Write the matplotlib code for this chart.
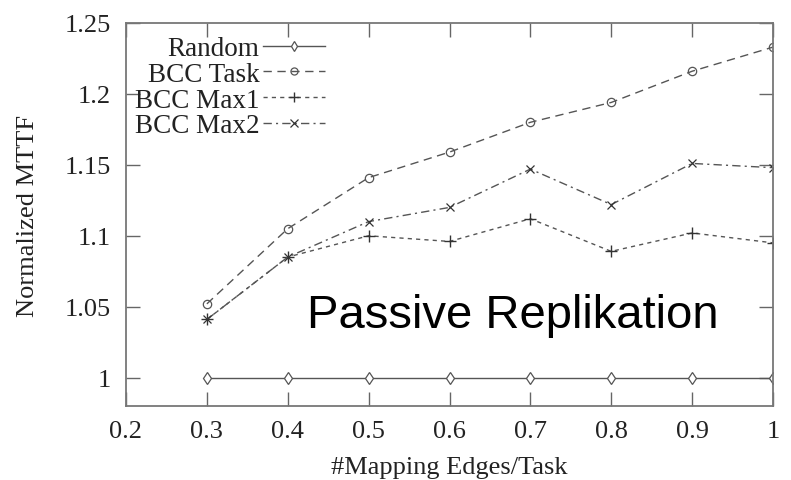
import matplotlib
matplotlib.use("Agg")
import matplotlib.pyplot as plt

x = [0.3, 0.4, 0.5, 0.6, 0.7, 0.8, 0.9, 1.0]
random_vals = [1.0, 1.0, 1.0, 1.0, 1.0, 1.0, 1.0, 1.0]
bcc_task = [1.052, 1.105, 1.141, 1.159, 1.180, 1.194, 1.216, 1.233]
bcc_max1 = [1.041, 1.085, 1.100, 1.096, 1.112, 1.089, 1.102, 1.095]
bcc_max2 = [1.041, 1.085, 1.110, 1.120, 1.147, 1.122, 1.151, 1.148]
xticks = [0.2, 0.3, 0.4, 0.5, 0.6, 0.7, 0.8, 0.9, 1.0]
xtick_labels = ["0.2", "0.3", "0.4", "0.5", "0.6", "0.7", "0.8", "0.9", "1"]
yticks = [1.0, 1.05, 1.1, 1.15, 1.2, 1.25]
ytick_labels = ["1", "1.05", "1.1", "1.15", "1.2", "1.25"]

serif = ["Liberation Serif", "DejaVu Serif"]
lc = "#555555"
tc = "#222222"

fig = plt.figure(figsize=(7.91, 4.81), dpi=100)
ax = fig.add_axes([126/791, 74/481, 647/791, 383/481])

ax.plot(x, random_vals, color=lc, lw=1.0, ls="-", marker="d", ms=6,
        mfc="white", mec=lc, mew=0.9, label="Random")
ax.plot(x, bcc_task, color=lc, lw=1.0, ls=(0, (6, 4)), marker="o", ms=6,
        mfc="none", mec=lc, mew=0.9, label="BCC Task")
ax.plot(x, bcc_max1, color=lc, lw=1.0, ls=(0, (3, 3)), marker="+", ms=8.5,
        mec="#333333", mew=1.0, label="BCC Max1")
ax.plot(x, bcc_max2, color=lc, lw=1.0, ls=(0, (6, 3, 1.5, 3)), marker="x", ms=6,
        mec="#333333", mew=0.9, label="BCC Max2")

ax.set_xlim(0.2, 1.0)
ax.set_ylim(0.98, 1.25)
ax.set_xticks(xticks)
ax.set_xticklabels(xtick_labels, fontfamily=serif, fontsize=19, color=tc)
ax.set_yticks(yticks)
ax.set_yticklabels(ytick_labels, fontfamily=serif, fontsize=19, color=tc)
ax.tick_params(direction="in", length=10, width=1.0, color="#666666",
               top=True, right=True)
ax.tick_params(axis="y", pad=11)
ax.tick_params(axis="x", pad=10)
for s in ax.spines.values():
    s.set_color("#777777")
    s.set_linewidth(1.3)

ax.set_xlabel("#Mapping Edges/Task", fontfamily=serif, fontsize=19, color=tc,
              labelpad=10)
ax.set_ylabel("Normalized MTTF", fontfamily=serif, fontsize=19, color=tc,
              labelpad=18)

leg = ax.legend(loc="upper right", bbox_to_anchor=(0.3076, 0.966),
                frameon=False, markerfirst=False, handlelength=2.3,
                handletextpad=0.12, labelspacing=0.03, borderpad=0.0,
                borderaxespad=0.0, markerscale=0.85,
                prop={"family": serif, "size": 19.5})
leg._legend_box.align = "right"
for t in leg.get_texts():
    t.set_color(tc)

ax.text(0.280, 0.205, "Passive Replikation", transform=ax.transAxes,
        fontfamily=["Liberation Sans", "DejaVu Sans"], fontsize=34,
        color="black", ha="left", va="baseline")

fig.savefig("out.png", dpi=100)
